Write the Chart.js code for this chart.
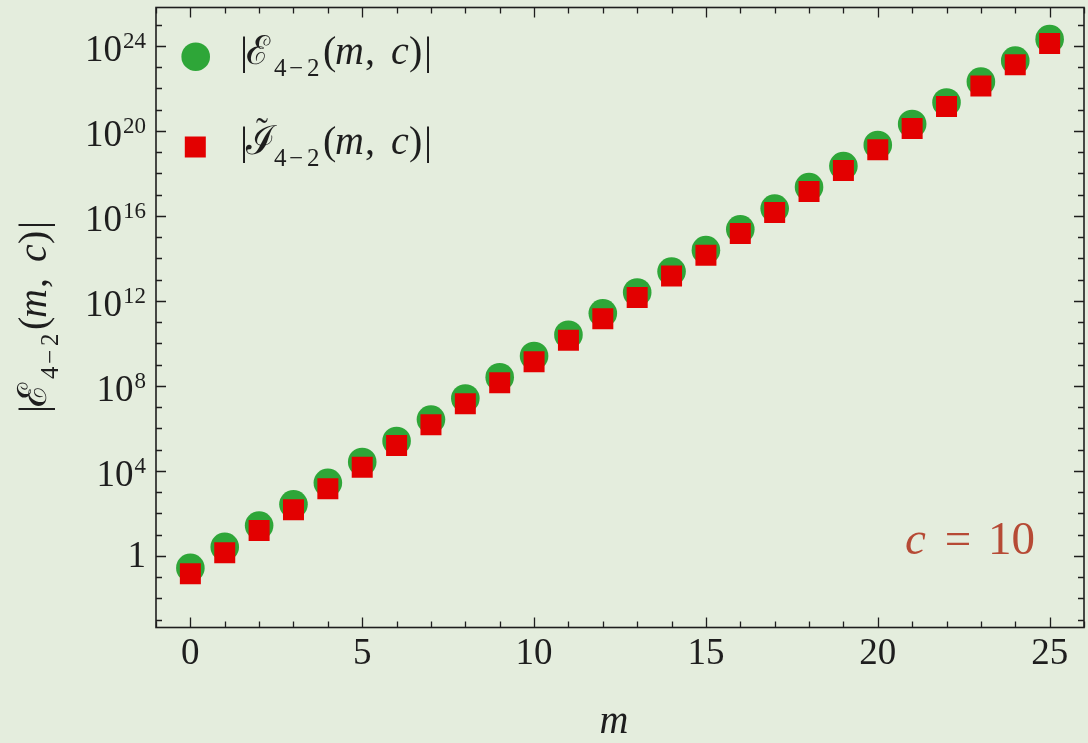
<!DOCTYPE html>
<html>
<head>
<meta charset="utf-8">
<script src="https://cdn.jsdelivr.net/npm/chart.js@4/dist/chart.umd.min.js"></script>
<style>
  html, body { margin: 0; padding: 0; background: #e4eddd; }
  #wrap { width: 1088px; height: 743px; }
</style>
</head>
<body>
<div id="wrap"><canvas id="c" width="1088" height="743"></canvas></div>
<script>
// m = 0 … 25
const mValues = [0, 1, 2, 3, 4, 5, 6, 7, 8, 9, 10, 11, 12, 13, 14, 15, 16, 17, 18, 19, 20, 21, 22, 23, 24, 25];

// |E_{4-2}(m, c)| at c = 10
const eValues = [
  0.272, 2.65, 26.9, 269, 2.75e3, 2.63e4, 2.57e5, 2.63e6, 2.57e7, 2.57e8,
  2.57e9, 2.57e10, 2.63e11, 2.51e12, 2.40e13, 2.45e14, 2.34e15, 2.24e16, 2.29e17, 2.24e18,
  2.19e19, 2.14e20, 2.19e21, 2.09e22, 2.04e23, 2.09e24
];

// |Ĩ_{4-2}(m, c)| at c = 10
const iValues = [
  0.145, 1.41, 15.7, 148, 1.45e3, 1.48e4, 1.55e5, 1.48e6, 1.45e7, 1.41e8,
  1.38e9, 1.41e10, 1.45e11, 1.45e12, 1.51e13, 1.41e14, 1.48e15, 1.45e16, 1.41e17, 1.38e18,
  1.32e19, 1.29e20, 1.41e21, 1.32e22, 1.32e23, 1.29e24
];

const xTickValues = [0, 5, 10, 15, 20, 25];
const xTickLabels = ['0', '5', '10', '15', '20', '25'];
const yTickValues = [1, 1e4, 1e8, 1e12, 1e16, 1e20, 1e24];
const yTickBase = ['1', '10', '10', '10', '10', '10', '10'];
const yTickExp = ['', '4', '8', '12', '16', '20', '24'];

const GREEN = '#2ea638';
const RED = '#e30000';
const INK = '#1e1e1e';
const ANNOT = '#b64a35';
const SERIF = "'Liberation Serif', 'DejaVu Serif', serif";

const FS = 40, SUB = 25, SUBDY = 12;

// pieces of |X_{4−2}(m, c)|: [text, italic, size, dx from start, dy]
function labelPieces(head) {
  return [
    ['|', false, FS, 0, 0],
    [head, false, FS, 6, 0],
    ['4', false, SUB, 34, SUBDY],
    ['\u2212', false, SUB, 49, SUBDY],
    ['2', false, SUB, 67, SUBDY],
    ['(', false, FS, 83, 0],
    ['m', true, FS, 95, 0],
    [',', false, FS, 125, 0],
    ['c', true, FS, 151, 0],
    [')', false, FS, 169, 0],
    ['|', false, FS, 184, 0]
  ];
}
function drawPieces(ctx, pieces, x, y) {
  ctx.textAlign = 'left';
  ctx.textBaseline = 'alphabetic';
  for (const [t, it, size, dx, dy] of pieces) {
    ctx.font = (it ? 'italic ' : '') + size + 'px ' + SERIF;
    ctx.fillText(t, x + dx, y + dy);
  }
}

// frame, inward tick marks, y tick labels, legend, annotation and axis titles
const decorPlugin = {
  id: 'decor',
  afterDraw(chart) {
    const ctx = chart.ctx;
    const a = chart.chartArea;
    const xs = chart.scales.x, ys = chart.scales.y;
    ctx.save();
    ctx.strokeStyle = INK;
    ctx.lineWidth = 1.3;
    ctx.beginPath();
    for (let v = Math.ceil(xs.min); v <= Math.floor(xs.max); v++) {
      const px = Math.round(xs.getPixelForValue(v)) + 0.5;
      const len = (v % 5 === 0) ? 10 : 6;
      ctx.moveTo(px, a.bottom); ctx.lineTo(px, a.bottom - len);
      ctx.moveTo(px, a.top); ctx.lineTo(px, a.top + len);
    }
    for (let e = Math.ceil(Math.log10(ys.min)); e <= Math.floor(Math.log10(ys.max)); e++) {
      const py = Math.round(ys.getPixelForValue(Math.pow(10, e))) + 0.5;
      const len = (e % 4 === 0) ? 10 : 6;
      ctx.moveTo(a.left, py); ctx.lineTo(a.left + len, py);
      ctx.moveTo(a.right, py); ctx.lineTo(a.right - len, py);
    }
    ctx.stroke();
    ctx.lineWidth = 1.6;
    ctx.strokeRect(a.left, a.top, a.right - a.left, a.bottom - a.top);

    // y tick labels with raised exponents
    ctx.fillStyle = INK;
    ctx.textBaseline = 'alphabetic';
    ctx.textAlign = 'right';
    const labelRight = a.left - 10;
    yTickValues.forEach((v, i) => {
      const py = ys.getPixelForValue(v);
      const exp = yTickExp[i];
      if (!exp) {
        ctx.font = '37px ' + SERIF;
        ctx.fillText(yTickBase[i], labelRight, py + 11.5);
      } else {
        ctx.font = '23px ' + SERIF;
        const ew = ctx.measureText(exp).width;
        ctx.fillText(exp, labelRight, py + 2);
        ctx.font = '37px ' + SERIF;
        ctx.fillText(yTickBase[i], labelRight - ew - 1, py + 15);
      }
    });

    // legend
    ctx.fillStyle = GREEN;
    Chart.helpers.drawPoint(ctx, { pointStyle: 'circle', radius: 14.3, rotation: 0, borderWidth: 0 }, 195.7, 56.7);
    ctx.fillStyle = RED;
    Chart.helpers.drawPoint(ctx, { pointStyle: 'rect', radius: 14.85, rotation: 0, borderWidth: 0 }, 195.3, 147);

    ctx.fillStyle = INK;
    drawPieces(ctx, labelPieces('\u2130'), 240, 64);
    drawPieces(ctx, labelPieces('\u2110'), 240, 154);
    ctx.font = '36px ' + SERIF;
    ctx.textAlign = 'center';
    ctx.fillText('\u02DC', 262, 143);

    // c = 10
    ctx.fillStyle = ANNOT;
    ctx.textAlign = 'left';
    ctx.font = 'italic 47px ' + SERIF;
    ctx.fillText('c', 905, 554);
    ctx.textAlign = 'center';
    ctx.font = '47px ' + SERIF;
    ctx.fillText('=', 958, 554);
    ctx.textAlign = 'right';
    ctx.fillText('10', 1035, 554);

    // axis titles
    ctx.fillStyle = INK;
    ctx.textAlign = 'center';
    ctx.font = 'italic ' + FS + 'px ' + SERIF;
    ctx.fillText('m', (a.left + a.right) / 2 - 6, 733);

    ctx.save();
    ctx.translate(46, 317);
    ctx.rotate(-Math.PI / 2);
    drawPieces(ctx, labelPieces('\u2130'), -96, 0);
    ctx.restore();
    ctx.restore();
  }
};

const bgPlugin = {
  id: 'bg',
  beforeDraw(chart) {
    const ctx = chart.ctx;
    ctx.save();
    ctx.fillStyle = '#e4eddd';
    ctx.fillRect(0, 0, chart.width, chart.height);
    ctx.restore();
  }
};

new Chart(document.getElementById('c'), {
  type: 'scatter',
  data: {
    datasets: [
      {
        label: '|E4-2(m,c)|',
        data: mValues.map((m, i) => ({ x: m, y: eValues[i] })),
        pointStyle: 'circle',
        pointRadius: 14.3,
        pointHoverRadius: 14.3,
        pointBorderWidth: 0,
        backgroundColor: GREEN,
        borderColor: GREEN,
        order: 2
      },
      {
        label: '|I4-2(m,c)|',
        data: mValues.map((m, i) => ({ x: m, y: iValues[i] })),
        pointStyle: 'rect',
        pointRadius: 14.85,
        pointHoverRadius: 14.85,
        pointBorderWidth: 0,
        backgroundColor: RED,
        borderColor: RED,
        order: 1
      }
    ]
  },
  options: {
    responsive: false,
    animation: false,
    devicePixelRatio: 1,
    layout: { autoPadding: false, padding: { top: 7.5, right: 4, left: 0, bottom: 0 } },
    plugins: { legend: { display: false }, tooltip: { enabled: false } },
    scales: {
      x: {
        type: 'linear',
        min: -1,
        max: 26,
        grid: { display: false, drawTicks: false },
        border: { display: false },
        afterBuildTicks: (s) => { s.ticks = xTickValues.map(v => ({ value: v })); },
        afterFit: (s) => { s.height = 115.5; s.paddingLeft = 0; s.paddingRight = 0; },
        ticks: {
          font: { family: SERIF, size: 37 },
          color: INK,
          padding: 5,
          maxRotation: 0,
          autoSkip: false,
          callback: (v, i) => xTickLabels[i]
        }
      },
      y: {
        type: 'logarithmic',
        min: Math.pow(10, -3.37),
        max: Math.pow(10, 25.81),
        grid: { display: false, drawTicks: false },
        border: { display: false },
        afterBuildTicks: (s) => { s.ticks = yTickValues.map(v => ({ value: v })); },
        afterFit: (s) => { s.width = 156; s.paddingTop = 0; s.paddingBottom = 0; },
        ticks: { display: false }
      }
    }
  },
  plugins: [bgPlugin, decorPlugin]
});
</script>
</body>
</html>
